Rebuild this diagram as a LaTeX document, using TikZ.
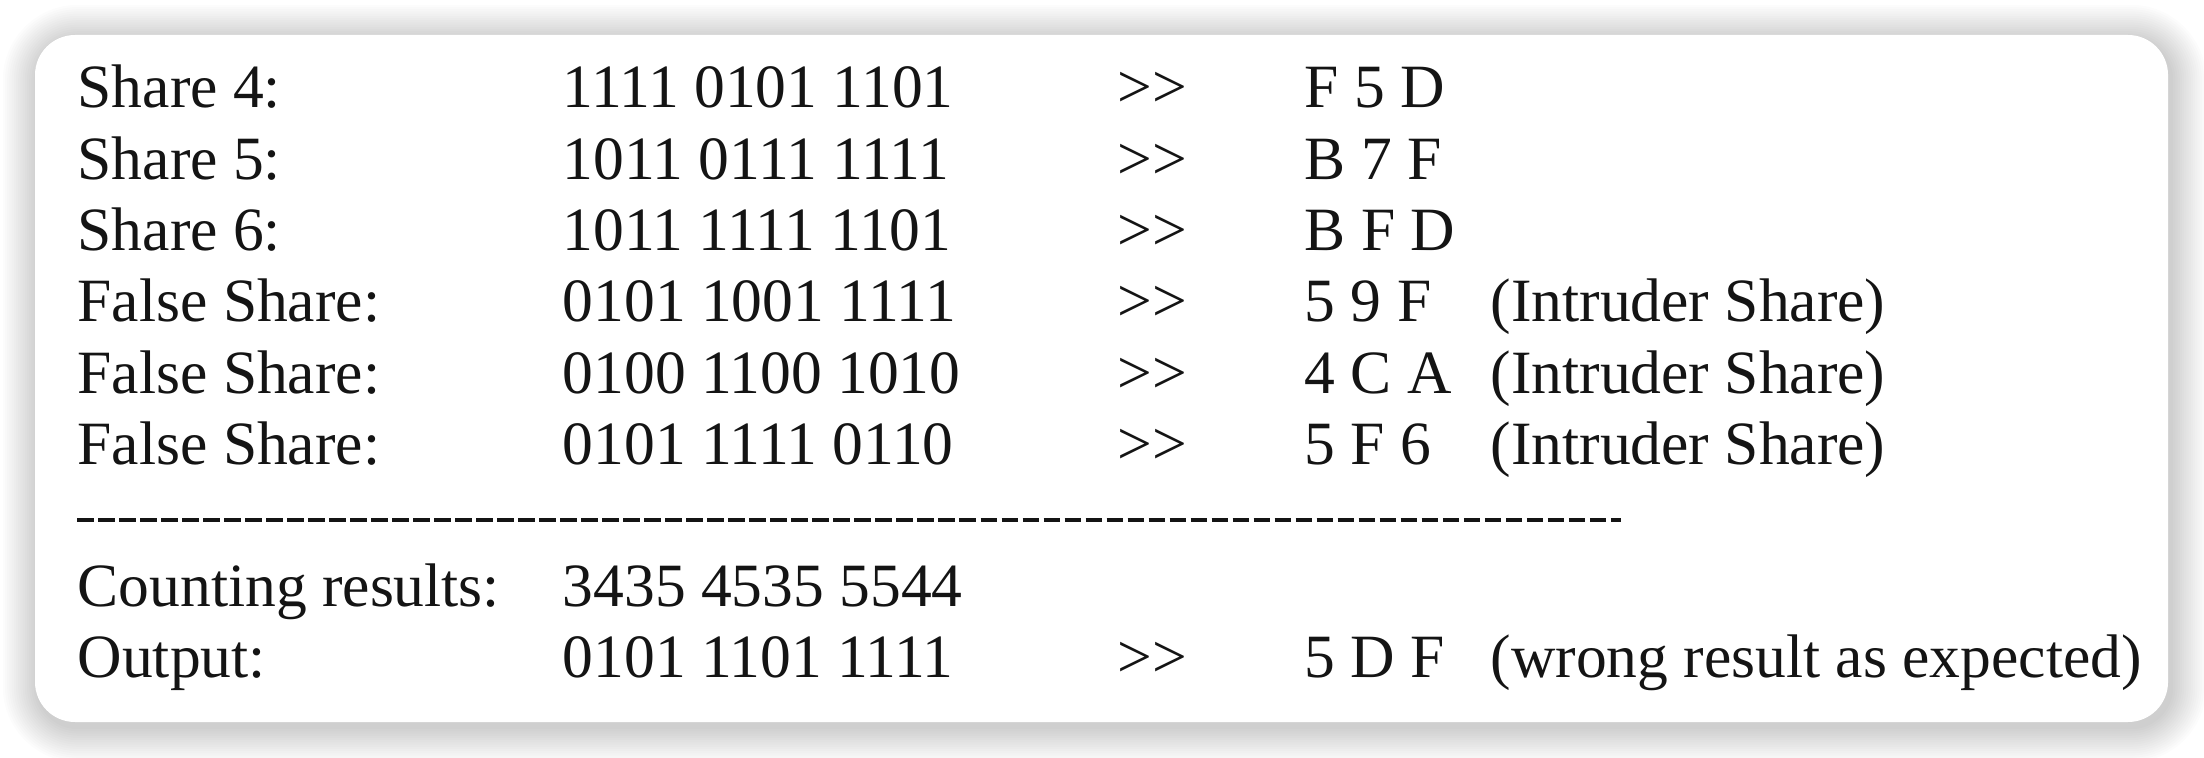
\documentclass[tikz,border=0pt]{standalone}
\usepackage{fontspec}
\setmainfont{Liberation Serif}
\begin{document}
\begin{tikzpicture}[x=0.01cm,y=-0.01cm,
  txt/.style={anchor=base west, inner sep=0pt, text=black!92,
    font=\fontsize{17.5pt}{21pt}\selectfont},
  sepline/.style={line width=0.035cm, dash pattern=on 0.165cm off 0.045cm, black!92}]
\useasboundingbox (0,0) rectangle (2204,758);
\fill[white] (0,0) rectangle (2204,758);
% soft shadow
\foreach \i in {1,...,16}{
  \fill[black, opacity=0.012, rounded corners={0.4cm+\i*0.022cm}]
    ({35-\i*2.2+3},{35-\i*2.2+5}) rectangle ({2168+\i*2.2+3},{722+\i*2.2+5});
}
% panel
\fill[white, rounded corners=0.4cm] (35,35) rectangle (2168,722);
% columns
\def\ca{77}\def\cb{562}\def\cc{1117}\def\cd{1304}\def\ce{1490}
\def\gg{>{}>}
% rows
\node[txt] (a1) at (\ca,108) {Share 4:};
\node[txt] (b1) at (\cb,108) {1111 0101 1101};
\node[txt] (c1) at (\cc,108) {\gg};
\node[txt] (d1) at (\cd,108) {F 5 D};
\node[txt] (a2) at (\ca,179.3) {Share 5:};
\node[txt] (b2) at (\cb,179.3) {1011 0111 1111};
\node[txt] (c2) at (\cc,179.3) {\gg};
\node[txt] (d2) at (\cd,179.3) {B 7 F};
\node[txt] (a3) at (\ca,250.6) {Share 6:};
\node[txt] (b3) at (\cb,250.6) {1011 1111 1101};
\node[txt] (c3) at (\cc,250.6) {\gg};
\node[txt] (d3) at (\cd,250.6) {B F D};
\node[txt] (a4) at (\ca,322) {False Share:};
\node[txt] (b4) at (\cb,322) {0101 1001 1111};
\node[txt] (c4) at (\cc,322) {\gg};
\node[txt] (d4) at (\cd,322) {5 9 F};
\node[txt] (e4) at (\ce,322) {(Intruder Share)};
\node[txt] (a5) at (\ca,393.3) {False Share:};
\node[txt] (b5) at (\cb,393.3) {0100 1100 1010};
\node[txt] (c5) at (\cc,393.3) {\gg};
\node[txt] (d5) at (\cd,393.3) {4 C A};
\node[txt] (e5) at (\ce,393.3) {(Intruder Share)};
\node[txt] (a6) at (\ca,464.6) {False Share:};
\node[txt] (b6) at (\cb,464.6) {0101 1111 0110};
\node[txt] (c6) at (\cc,464.6) {\gg};
\node[txt] (d6) at (\cd,464.6) {5 F 6};
\node[txt] (e6) at (\ce,464.6) {(Intruder Share)};
% separator
\coordinate (s1) at (77,520);
\coordinate (s2) at (1621,520);
\draw[sepline] (s1) -- (s2);
\node[txt] (a7) at (\ca,606) {Counting results:};
\node[txt] (b7) at (\cb,606) {3435 4535 5544};
\node[txt] (a8) at (\ca,677) {Output:};
\node[txt] (b8) at (\cb,677) {0101 1101 1111};
\node[txt] (c8) at (\cc,677) {\gg};
\node[txt] (d8) at (\cd,677) {5 D F};
\node[txt] (e8) at (\ce,677) {(wrong result as expected)};
\end{tikzpicture}
\end{document}
